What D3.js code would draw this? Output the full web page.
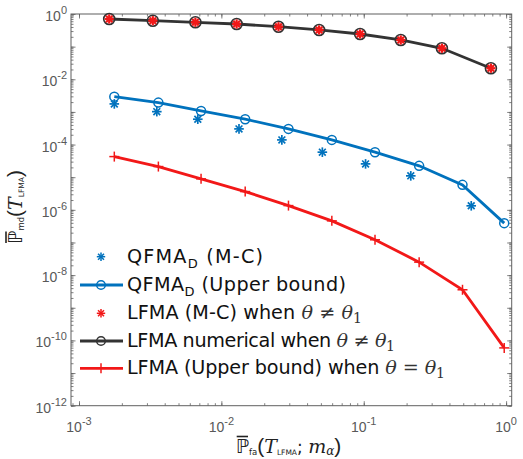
<!DOCTYPE html>
<html><head><meta charset="utf-8">
<script src="https://cdn.jsdelivr.net/npm/d3@7"></script>
<style>body{margin:0;background:#fff}</style>
</head><body><svg id="c" width="523" height="459"></svg>
<script>
// ---- data ----
const pfaQUB  = [0.00177,0.00361,0.0072,0.0147,0.0296,0.0597,0.120,0.245,0.494,0.97];
const pmdQUB  = [2.94e-3,1.93e-3,1.07e-3,5.98e-4,3.02e-4,1.39e-4,5.85e-5,2.23e-5,5.83e-6,3.92e-7];
const pfaQMC  = [0.00177,0.00352,0.00683,0.0133,0.0266,0.0512,0.103,0.214,0.569];
const pmdQMC  = [1.76e-3,1.02e-3,5.98e-4,3.02e-4,1.39e-4,5.85e-5,2.56e-5,1.1e-5,1.33e-6];
const pfaLNum = [0.00163,0.0033,0.00657,0.0128,0.0252,0.0486,0.0943,0.182,0.354,0.782];
const pmdLNum = [0.703,0.624,0.557,0.494,0.408,0.324,0.244,0.16,0.089,0.0218];
const pfaLMC  = [0.00163,0.0033,0.00657,0.0128,0.0252,0.0486,0.0943,0.182,0.354,0.782];
const pmdLMC  = [0.703,0.624,0.557,0.494,0.408,0.324,0.244,0.16,0.089,0.0218];
const pfaLUB  = [0.00177,0.00361,0.0072,0.0147,0.0296,0.0597,0.120,0.245,0.494,0.97];
const pmdLUB  = [4.28e-5,2.12e-5,8.9e-6,3.63e-6,1.35e-6,4.6e-7,1.21e-7,2.5e-8,3.56e-9,5.9e-11];
const xTickExps = [-3,-2,-1,0];
const yTickExps = [0,-2,-4,-6,-8,-10,-12];

// ---- layout ----
const L=71, T=14, R=511.7, B=405.7;
const BLUE="#0072BD", RED="#F21818", DARK="#333333", AX="#5f5f5f";
const svg=d3.select("#c");
const x=d3.scaleLog().domain([Math.pow(10,-3.0562),Math.pow(10,0.0393)]).range([L,R]);
const y=d3.scaleLog().domain([1e-12,1]).range([B,T]);

function minors(lo,hi){const a=[];for(let e=lo;e<hi;e++)for(let k=1;k<10;k++){a.push(k*Math.pow(10,e));}return a;}
const xMin=minors(-4,1).filter(v=>v>=x.domain()[0]&&v<=x.domain()[1]);
const yMin=minors(-12,0).filter(v=>v>=1e-12&&v<=1);
const xMaj=xTickExps.map(e=>Math.pow(10,e));
const yMajAll=d3.range(-12,1).map(e=>Math.pow(10,e));

function styleAxis(g){g.select(".domain").remove();g.selectAll("line").attr("stroke",AX).attr("stroke-width",0.8);g.selectAll("text").remove();}
svg.append("g").attr("transform",`translate(0,${B})`).call(d3.axisBottom(x).tickValues(xMin).tickSize(-2.5).tickFormat("")).call(styleAxis);
svg.append("g").attr("transform",`translate(0,${T})`).call(d3.axisTop(x).tickValues(xMin).tickSize(-2.5).tickFormat("")).call(styleAxis);
svg.append("g").attr("transform",`translate(${L},0)`).call(d3.axisLeft(y).tickValues(yMin).tickSize(-2.5).tickFormat("")).call(styleAxis);
svg.append("g").attr("transform",`translate(${R},0)`).call(d3.axisRight(y).tickValues(yMin).tickSize(-2.5).tickFormat("")).call(styleAxis);
svg.append("g").attr("transform",`translate(0,${B})`).call(d3.axisBottom(x).tickValues(xMaj).tickSize(-4.5).tickFormat("")).call(styleAxis);
svg.append("g").attr("transform",`translate(0,${T})`).call(d3.axisTop(x).tickValues(xMaj).tickSize(-4.5).tickFormat("")).call(styleAxis);
svg.append("g").attr("transform",`translate(${L},0)`).call(d3.axisLeft(y).tickValues(yMajAll).tickSize(-4.5).tickFormat("")).call(styleAxis);
svg.append("g").attr("transform",`translate(${R},0)`).call(d3.axisRight(y).tickValues(yMajAll).tickSize(-4.5).tickFormat("")).call(styleAxis);
svg.append("rect").attr("x",L).attr("y",T).attr("width",R-L).attr("height",B-T).attr("fill","none").attr("stroke",AX).attr("stroke-width",1);

const TF="'Liberation Sans', Arial, sans-serif";
xTickExps.forEach(e=>{
  const t=svg.append("text").attr("x",x(Math.pow(10,e))).attr("y",B+26).attr("text-anchor","middle")
    .attr("font-family",TF).attr("font-size",14).attr("fill","#595959");
  t.append("tspan").text("10");
  t.append("tspan").attr("dy",-7).attr("font-size",11).text(String(e));
});
yTickExps.forEach(e=>{
  const t=svg.append("text").attr("x",L-4).attr("y",y(Math.pow(10,e))+7).attr("text-anchor","end")
    .attr("font-family",TF).attr("font-size",14).attr("fill","#595959");
  t.append("tspan").text("10");
  t.append("tspan").attr("dy",-7).attr("font-size",11).text(String(e));
});

function asterisk(g,cx,cy,s,col,w){
  const d=s*0.7071;
  [[-s,0,s,0],[0,-s,0,s],[-d,-d,d,d],[-d,d,d,-d]].forEach(p=>
    g.append("line").attr("x1",cx+p[0]).attr("y1",cy+p[1]).attr("x2",cx+p[2]).attr("y2",cy+p[3]).attr("stroke",col).attr("stroke-width",w));
}
function plus(g,cx,cy,s,col,w){
  g.append("line").attr("x1",cx-s).attr("y1",cy).attr("x2",cx+s).attr("y2",cy).attr("stroke",col).attr("stroke-width",w);
  g.append("line").attr("x1",cx).attr("y1",cy-s).attr("x2",cx).attr("y2",cy+s).attr("stroke",col).attr("stroke-width",w);
}
function circ(g,cx,cy,r,col,w){g.append("circle").attr("cx",cx).attr("cy",cy).attr("r",r).attr("fill","none").attr("stroke",col).attr("stroke-width",w);}

const line=d3.line().x(d=>x(d[0])).y(d=>y(d[1]));
const plot=svg.append("g");
plot.append("path").datum(d3.zip(pfaLNum,pmdLNum)).attr("d",line).attr("fill","none").attr("stroke",DARK).attr("stroke-width",2.8);
d3.zip(pfaLNum,pmdLNum).forEach(d=>circ(plot,x(d[0]),y(d[1]),5.5,DARK,1.6));
d3.zip(pfaLMC,pmdLMC).forEach(d=>asterisk(plot,x(d[0]),y(d[1]),4.6,RED,2.2));
plot.append("path").datum(d3.zip(pfaQUB,pmdQUB)).attr("d",line).attr("fill","none").attr("stroke",BLUE).attr("stroke-width",2.8);
d3.zip(pfaQUB,pmdQUB).forEach(d=>circ(plot,x(d[0]),y(d[1]),4.5,BLUE,1.5));
d3.zip(pfaQMC,pmdQMC).forEach(d=>asterisk(plot,x(d[0]),y(d[1]),4.8,BLUE,1.7));
plot.append("path").datum(d3.zip(pfaLUB,pmdLUB)).attr("d",line).attr("fill","none").attr("stroke",RED).attr("stroke-width",2.8);
d3.zip(pfaLUB,pmdLUB).forEach(d=>plus(plot,x(d[0]),y(d[1]),5,RED,1.5));

// legend
const LF="'DejaVu Sans', sans-serif", MF="'DejaVu Serif', serif";
const rows=[256.7,285,313.3,341,368.3];
const legendEnds=[263,346,362,395,445];
const lg=svg.append("g");
asterisk(lg,101,rows[0],4.2,BLUE,1.5);
lg.append("line").attr("x1",80).attr("x2",123).attr("y1",rows[1]).attr("y2",rows[1]).attr("stroke",BLUE).attr("stroke-width",2.8);
circ(lg,101,rows[1],4.3,BLUE,1.5);
asterisk(lg,101,rows[2],4.2,RED,1.5);
lg.append("line").attr("x1",80).attr("x2",123).attr("y1",rows[3]).attr("y2",rows[3]).attr("stroke",DARK).attr("stroke-width",2.8);
circ(lg,101,rows[3],4.3,DARK,1.5);
lg.append("line").attr("x1",80).attr("x2",123).attr("y1",rows[4]).attr("y2",rows[4]).attr("stroke",RED).attr("stroke-width",2.8);
plus(lg,101,rows[4],5,RED,1.5);

function legText(i){return lg.append("text").attr("x",127).attr("y",rows[i]+6).attr("font-family",LF).attr("font-size",19.2).attr("fill","#111");}
function theta(t,rel){
  t.append("tspan").attr("font-family",MF).attr("font-style","italic").attr("fill","#333").text("θ");
  t.append("tspan").attr("font-family",MF).attr("fill","#333").text(rel);
  t.append("tspan").attr("font-family",MF).attr("font-style","italic").attr("fill","#333").text("θ");
  t.append("tspan").attr("font-family",MF).attr("font-size",14).attr("dy",4).attr("fill","#333").text("1");
}
const legTexts=[];
let t=legText(0); t.append("tspan").text("QFMA"); t.append("tspan").attr("font-size",13).attr("dy",5).text("D"); t.append("tspan").attr("dy",-5).text(" (M-C)"); legTexts.push(t);
t=legText(1); t.append("tspan").text("QFMA"); t.append("tspan").attr("font-size",13).attr("dy",5).text("D"); t.append("tspan").attr("dy",-5).text(" (Upper bound)"); legTexts.push(t);
t=legText(2); t.append("tspan").text("LFMA (M-C) when "); theta(t," ≠ "); legTexts.push(t);
t=legText(3); t.append("tspan").text("LFMA numerical when "); theta(t," ≠ "); legTexts.push(t);
t=legText(4); t.append("tspan").text("LFMA (Upper bound) when "); theta(t," = "); legTexts.push(t);
// fit each legend label to its width in the reference
legTexts.forEach((tx,i)=>{
  const n=tx.node(); const bb=n.getBBox(); const nc=n.getNumberOfChars();
  const ls=(legendEnds[i]-(bb.x+bb.width))/Math.max(1,nc-1);
  tx.attr("letter-spacing",Math.max(-0.8,Math.min(2.5,ls)));
});

// x label
const PF="'Liberation Sans', sans-serif";
const xl=svg.append("text").attr("x",288.5).attr("y",452.5).attr("text-anchor","middle").attr("font-family",LF).attr("font-size",19).attr("fill","#222");
xl.append("tspan").text("ℙ");
xl.append("tspan").attr("font-size",8.5).attr("dy",2).text("fa");
xl.append("tspan").attr("font-family",PF).attr("font-size",21).attr("dy",-2).text("(");
xl.append("tspan").attr("font-family",MF).attr("font-style","italic").attr("font-size",19).text("T");
xl.append("tspan").attr("font-size",7.5).attr("dy",2).text("LFMA");
xl.append("tspan").attr("font-size",17).attr("dy",-2).text("; ");
xl.append("tspan").attr("font-family",MF).attr("font-style","italic").attr("font-size",19).text("m");
xl.append("tspan").attr("font-family",MF).attr("font-style","italic").attr("font-size",12).attr("dy",2).text("α");
xl.append("tspan").attr("font-family",PF).attr("font-size",21).attr("dy",-2).text(")");
{const r=xl.node().getExtentOfChar(0); svg.append("line").attr("x1",r.x+1).attr("x2",r.x+r.width-1).attr("y1",r.y+2).attr("y2",r.y+2).attr("stroke","#222").attr("stroke-width",1.6);}
// y label
const yg=svg.append("g").attr("transform","translate(22,207) rotate(-90)");
const yl=yg.append("text").attr("x",0).attr("y",0).attr("text-anchor","middle").attr("font-family",LF).attr("font-size",19).attr("fill","#222");
yl.append("tspan").text("ℙ");
yl.append("tspan").attr("font-size",8.5).attr("dy",2).text("md");
yl.append("tspan").attr("font-family",PF).attr("font-size",21).attr("dy",-2).text("(");
yl.append("tspan").attr("font-family",MF).attr("font-style","italic").attr("font-size",19).text("T");
yl.append("tspan").attr("font-size",7.5).attr("dy",2).text("LFMA");
yl.append("tspan").attr("font-family",PF).attr("font-size",21).attr("dy",-2).text(")");
{const r=yl.node().getExtentOfChar(0); yg.append("line").attr("x1",r.x+1).attr("x2",r.x+r.width-1).attr("y1",r.y+2).attr("y2",r.y+2).attr("stroke","#222").attr("stroke-width",1.6);}
</script></body></html>
